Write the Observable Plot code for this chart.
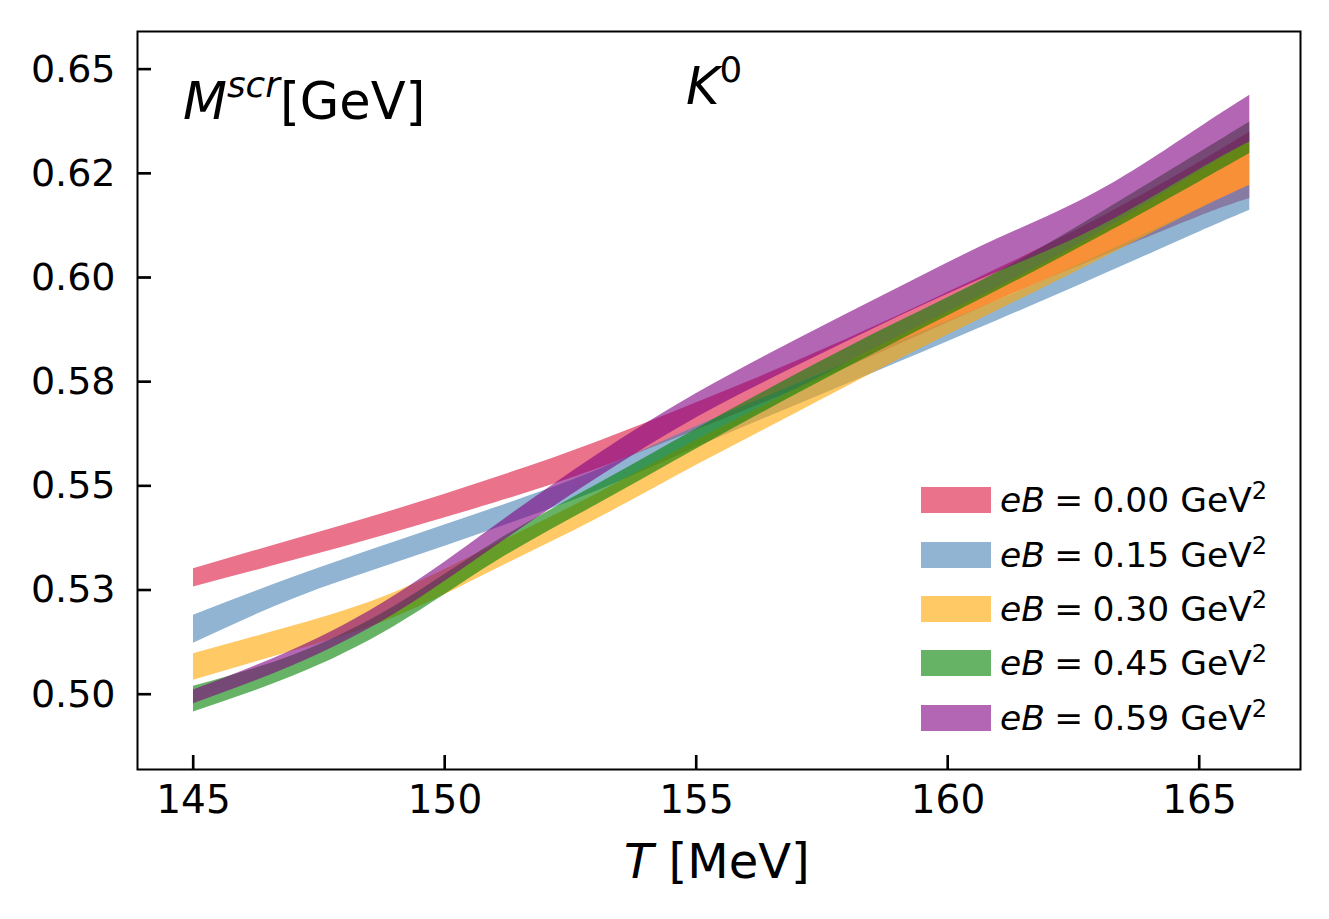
<!DOCTYPE html>
<html><head><meta charset="utf-8">
<script src="https://cdn.jsdelivr.net/npm/d3@7"></script>
<script src="https://cdn.jsdelivr.net/npm/@observablehq/plot@0.6"></script>
<style>
body{margin:0;background:#fff;}
#wrap{position:relative;width:1329px;height:919px;font-family:"DejaVu Sans",sans-serif;color:#000;}
#wrap svg.ticks{position:absolute;left:0;top:0;pointer-events:none;}
.ann{position:absolute;white-space:nowrap;line-height:1;}
.ann sup{font-size:70%;vertical-align:0;position:relative;top:-0.62em;}
.leg{position:absolute;left:921px;height:40px;display:flex;align-items:center;font-size:34.5px;white-space:nowrap;}
.leg .sw{width:70px;height:26px;margin-right:9px;}
.leg sup{font-size:70%;vertical-align:0;position:relative;top:-0.55em;}
.leg .eq{margin:0 0.27em;}
</style></head><body><div id="wrap"></div>
<script>
// Temperature grid [MeV]
const T = [145, 147, 149, 151, 153, 155, 157, 159, 161, 163, 165, 166];

// Screening mass bands [GeV] (lower / upper edges), one pair per eB
const eB000_lo = [0.5258, 0.5322, 0.5389, 0.5460, 0.5540, 0.5634, 0.5733, 0.5838, 0.5946, 0.6048, 0.6147, 0.6190];
const eB000_hi = [0.5302, 0.5372, 0.5443, 0.5520, 0.5605, 0.5700, 0.5800, 0.5908, 0.6022, 0.6142, 0.6277, 0.6350];
const eB015_lo = [0.5123, 0.5230, 0.5315, 0.5398, 0.5487, 0.5593, 0.5695, 0.5796, 0.5898, 0.6003, 0.6110, 0.6162];
const eB015_hi = [0.5190, 0.5282, 0.5366, 0.5448, 0.5537, 0.5643, 0.5745, 0.5846, 0.5946, 0.6053, 0.6166, 0.6222];
const eB030_lo = [0.5034, 0.5105, 0.5185, 0.5300, 0.5420, 0.5550, 0.5676, 0.5802, 0.5922, 0.6042, 0.6165, 0.6222];
const eB030_hi = [0.5098, 0.5165, 0.5245, 0.5360, 0.5480, 0.5610, 0.5734, 0.5858, 0.5978, 0.6108, 0.6255, 0.6326];
const eB045_lo = [0.4958, 0.5045, 0.5164, 0.5318, 0.5454, 0.5589, 0.5721, 0.5847, 0.5970, 0.6097, 0.6230, 0.6298];
const eB045_hi = [0.5020, 0.5095, 0.5212, 0.5366, 0.5502, 0.5637, 0.5769, 0.5893, 0.6014, 0.6153, 0.6300, 0.6374];
const eB059_lo = [0.4978, 0.5070, 0.5193, 0.5355, 0.5517, 0.5664, 0.5788, 0.5905, 0.6014, 0.6122, 0.6260, 0.6326];
const eB059_hi = [0.5011, 0.5108, 0.5237, 0.5405, 0.5573, 0.5722, 0.5852, 0.5975, 0.6094, 0.6208, 0.6360, 0.6438];

const eBLabels = ["0.00", "0.15", "0.30", "0.45", "0.59"];
const colors = ["crimson", "steelblue", "orange", "green", "purple"];

const xTicks = [145, 150, 155, 160, 165];
const xTickLabels = ["145", "150", "155", "160", "165"];
const yTicks = [0.500, 0.525, 0.550, 0.575, 0.600, 0.625, 0.650];
const yTickLabels = ["0.50", "0.53", "0.55", "0.58", "0.60", "0.62", "0.65"];

const bands = [
  [eB000_lo, eB000_hi], [eB015_lo, eB015_hi], [eB030_lo, eB030_hi],
  [eB045_lo, eB045_hi], [eB059_lo, eB059_hi]
];

const rowsFor = ([lo, hi]) => T.map((t, i) => ({T: t, lo: lo[i], hi: hi[i]}));

const W = 1329, H = 919, mL = 137, mR = 29, mT = 31, mB = 150;
const frameW = W - mL - mR, frameH = H - mT - mB, tickLen = 14;

const chart = Plot.plot({
  width: W, height: H,
  marginLeft: mL, marginRight: mR, marginTop: mT, marginBottom: mB,
  x: {domain: [143.887, 167.008]},
  y: {domain: [0.482, 0.6591]},
  style: {fontFamily: "DejaVu Sans, sans-serif", fontSize: "39px", color: "#000", background: "#fff", overflow: "visible"},
  marks: [
    ...bands.map((b, k) => Plot.areaY(rowsFor(b), {
      x: "T", y1: "lo", y2: "hi", fill: colors[k], fillOpacity: 0.6, curve: "natural"
    })),
    Plot.frame({stroke: "#000", strokeWidth: 2}),
    Plot.tickX(xTicks, {x: d => d, stroke: "#000", strokeWidth: 2, insetTop: frameH - tickLen}),
    Plot.tickY(yTicks, {y: d => d, stroke: "#000", strokeWidth: 2, insetRight: frameW - tickLen}),
    Plot.axisX({ticks: xTicks, tickSize: 0, tickPadding: 16, label: null,
      tickFormat: d => xTickLabels[xTicks.indexOf(d)]}),
    Plot.axisY({ticks: yTicks, tickSize: 0, tickPadding: 22, label: null, fontSize: 38,
      tickFormat: d => yTickLabels[yTicks.indexOf(d)]})
  ]
});

const wrap = document.getElementById("wrap");
wrap.appendChild(chart);

// Inward ticks drawn again through the chart's own scales (overlay)
const sx = chart.scale("x"), sy = chart.scale("y");
const ov = d3.create("svg").attr("class", "ticks").attr("width", W).attr("height", H)
  .attr("stroke", "#000").attr("stroke-width", 2.2);
const yBottom = H - mB;
for (const t of xTicks) {
  const px = sx.apply(t);
  ov.append("line").attr("x1", px).attr("x2", px).attr("y1", yBottom).attr("y2", yBottom - tickLen);
}
for (const v of yTicks) {
  const py = sy.apply(v);
  ov.append("line").attr("x1", mL).attr("x2", mL + tickLen).attr("y1", py).attr("y2", py);
}
wrap.appendChild(ov.node());

function ann(html, left, top, size) {
  const d = document.createElement("div");
  d.className = "ann";
  d.style.left = left + "px"; d.style.top = top + "px"; d.style.fontSize = size + "px";
  d.innerHTML = html;
  wrap.appendChild(d);
}
ann('<i>M</i><sup><i>scr</i></sup>[GeV]', 183, 76, 51);
ann('<i>K</i><sup>0</sup>', 686, 61, 51);
ann('<i>T</i> [MeV]', 624, 837, 48);

const legendCenters = [500, 555, 609, 663, 718];
eBLabels.forEach((lab, k) => {
  const r = document.createElement("div");
  r.className = "leg";
  r.style.top = (legendCenters[k] - 20) + "px";
  r.innerHTML = `<div class="sw" style="background:${colors[k]};opacity:0.6"></div><span><i>eB</i><span class="eq">=</span>${lab} GeV<sup>2</sup></span>`;
  wrap.appendChild(r);
});
</script>
</body></html>
